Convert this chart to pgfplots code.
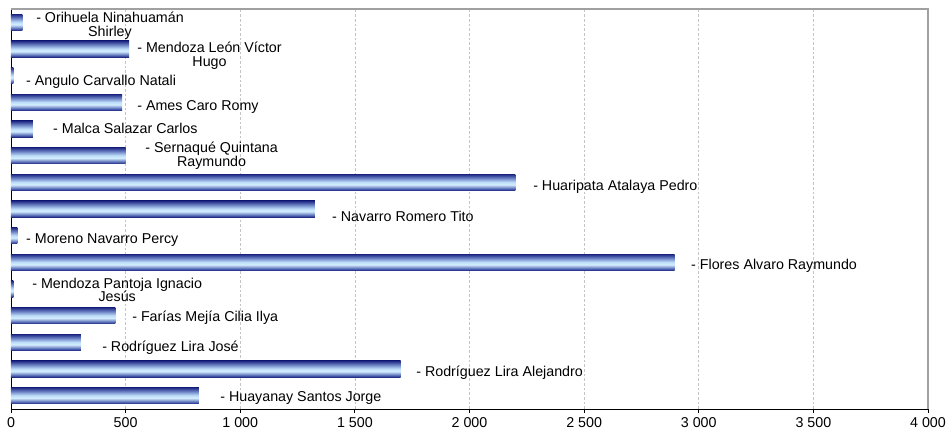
\documentclass[border=0pt]{standalone}
\usepackage{fontspec}
\setmainfont{Liberation Sans}
\usepackage{pgfplots}
\pgfplotsset{compat=1.18}
\definecolor{barnavy}{HTML}{1B2480}
\definecolor{barmid}{HTML}{4A5EAE}
\definecolor{barlight}{HTML}{D4EEFF}
\definecolor{barlight2}{HTML}{BCDCF8}
\definecolor{barmid2}{HTML}{6A80C4}
\definecolor{gridgray}{HTML}{C4C4C4}
\definecolor{framegray}{HTML}{A0A0A0}
\pgfdeclareverticalshading{barshade}{100bp}{color(0bp)=(barnavy); color(25bp)=(barnavy); color(30bp)=(barmid); color(43bp)=(barlight); color(51bp)=(barlight2); color(63bp)=(barmid2); color(75bp)=(barnavy); color(100bp)=(barnavy)}
\pgfplotsset{onebar/.style={xbar, bar width=0.62, draw=none, shading=barshade}}
\begin{document}
\begin{tikzpicture}
\path[use as bounding box] (-8.25pt,-18pt) rectangle (703.5pt,306.75pt);
\begin{axis}[
  scale only axis,
  width=687.75pt, height=300pt,
  xmin=0, xmax=4000,
  ymin=-0.5, ymax=14.5,
  xtick={0,500,1000,1500,2000,2500,3000,3500,4000},
  xticklabels={0,500,1 000,1 500,2 000,2 500,3 000,3 500,4 000},
  ytick=\empty,
  axis x line*=bottom,
  axis y line*=left,
  axis line style={black, line width=0.6pt},
  tick align=outside,
  major tick length=3pt,
  every tick/.style={black, line width=0.6pt},
  xmajorgrids,
  major grid style={gridgray, line width=0.5pt, dash pattern=on 2pt off 1.5pt},
  tick label style={font=\fontsize{10.7}{12}\selectfont, text=black},
  clip=false,
]
\addplot[onebar] coordinates {(820,0)};
\addplot[onebar] coordinates {(1700,1)};
\addplot[onebar] coordinates {(305,2)};
\addplot[onebar] coordinates {(455,3)};
\addplot[onebar] coordinates {(10,4)};
\addplot[onebar] coordinates {(2895,5)};
\addplot[onebar] coordinates {(28,6)};
\addplot[onebar] coordinates {(1325,7)};
\addplot[onebar] coordinates {(2200,8)};
\addplot[onebar] coordinates {(500,9)};
\addplot[onebar] coordinates {(95,10)};
\addplot[onebar] coordinates {(485,11)};
\addplot[onebar] coordinates {(10,12)};
\addplot[onebar] coordinates {(515,13)};
\addplot[onebar] coordinates {(50,14)};
\addplot[draw=none, mark=none, nodes near coords, point meta=explicit symbolic,
  every node near coord/.style={anchor=west, inner sep=0pt, align=center,
    font=\fontsize{10.7}{10.3}\selectfont, text=black}] coordinates {
  (912,-0.09) [{- Huayanay Santos Jorge}]
  (1767,0.85) [{- Rodríguez Lira Alejandro}]
  (397,1.79) [{- Rodríguez Lira José}]
  (528,2.92) [{- Farías Mejía Cilia Ilya}]
  (92,3.97) [{- Mendoza Pantoja Ignacio\\Jesús}]
  (2966,4.87) [{- Flores Alvaro Raymundo}]
  (65,5.85) [{- Moreno Navarro Percy}]
  (1400,6.71) [{- Navarro Romero Tito}]
  (2277,7.84) [{- Huaripata Atalaya Pedro}]
  (585,9.0) [{- Sernaqué Quintana\\Raymundo}]
  (183,10.01) [{- Malca Salazar Carlos}]
  (550,10.84) [{- Ames Caro Romy}]
  (65,11.78) [{- Angulo Carvallo Natali}]
  (550,12.74) [{- Mendoza León Víctor\\Hugo}]
  (109,13.86) [{- Orihuela Ninahuamán\\Shirley}]
};
\draw[framegray, line width=1.1pt] (rel axis cs:0,1) -- (rel axis cs:1,1) -- (rel axis cs:1,0);
\end{axis}
\end{tikzpicture}
\end{document}
